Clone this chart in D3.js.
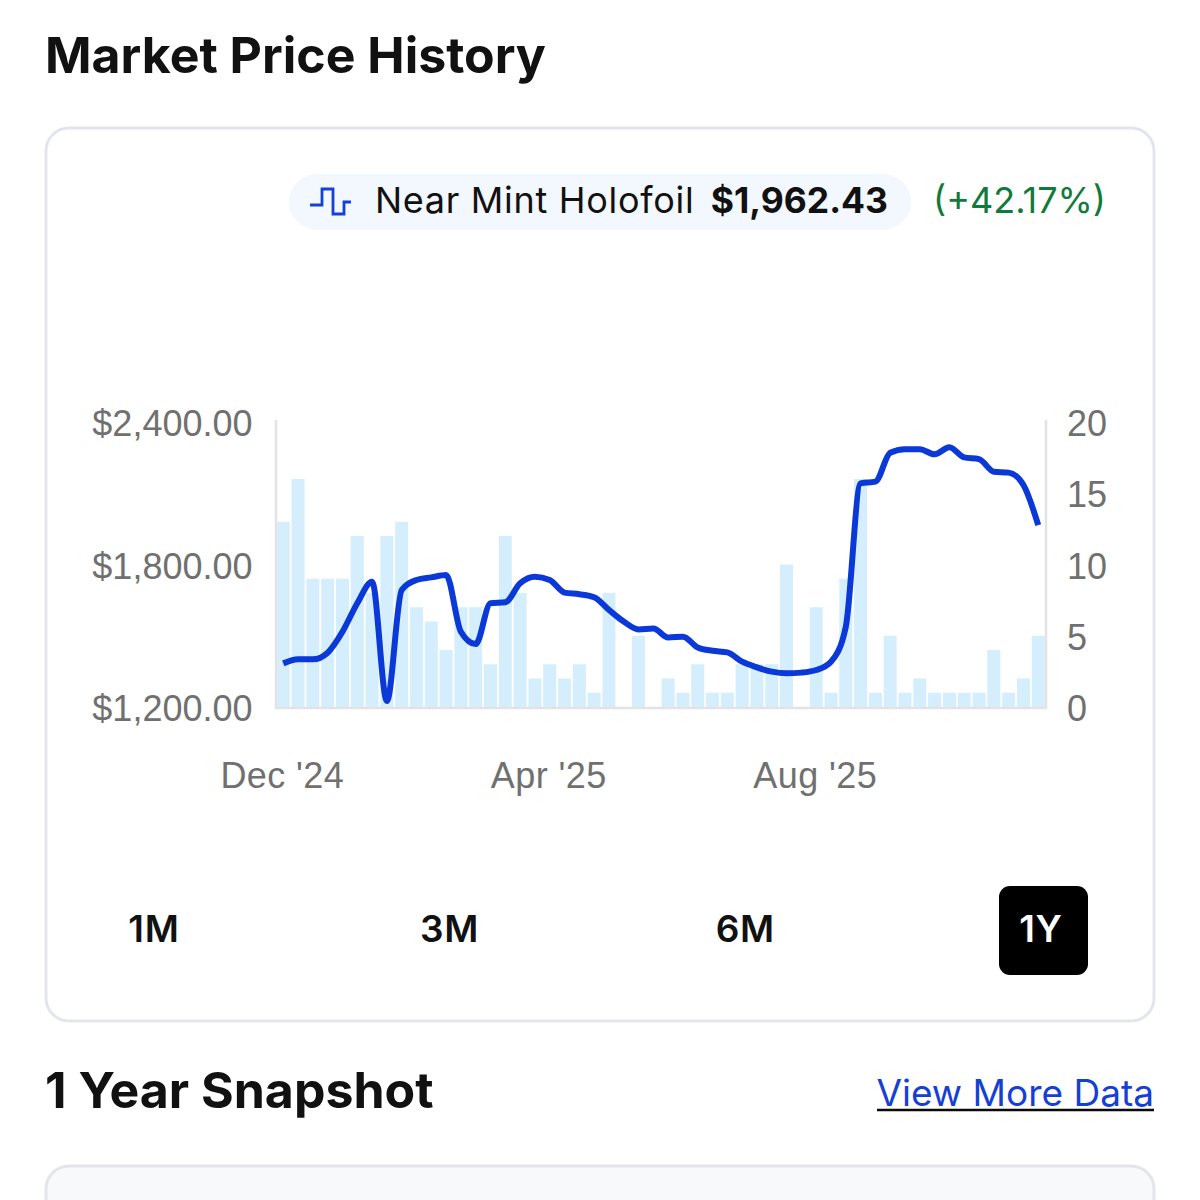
<!DOCTYPE html>
<html>
<head>
<meta charset="utf-8">
<script src="https://cdn.jsdelivr.net/npm/d3@7"></script>
<style>
  html, body { margin: 0; padding: 0; background: #fff; }
  text { font-family: Inter, sans-serif; }
  .tick-label { font-family: "Liberation Sans", sans-serif; font-size: 36px; fill: #707070; }
</style>
</head>
<body>
<div id="chart"></div>
<script>
var volume = [13,16,9,9,9,12,8,12,13,7,6,4,7,7,3,12,8,2,3,2,3,1,8,0,5,0,2,1,3,1,1,3,3,3,10,0,7,1,9,16,1,5,1,2,1,1,1,1,4,1,2,5];
var price = [1388,1405,1405,1433,1521,1641,1732,1229,1697,1739,1750,1760,1521,1469,1641,1645,1725,1753,1739,1686,1679,1666,1613,1564,1531,1535,
  1497,1500,1455,1441,1434,1395,1371,1353,1346,1349,1360,1395,1542,2146,2153,2275,2290,2290,2268,2298,2255,2248,2195,2191,2139,1970];
var priceTicks = [1200, 1800, 2400];
var volumeTicks = [0, 5, 10, 15, 20];
var monthLabels = ["Dec '24", "Apr '25", "Aug '25"];
var monthIndex = [0, 18, 36];
var ranges = ["1M", "3M", "6M", "1Y"];

var width = 1200, height = 1200;
var svg = d3.select("#chart").append("svg")
  .attr("width", width).attr("height", height)
  .style("display", "block");

var x = d3.scaleBand().domain(d3.range(volume.length)).range([276, 1045.5]).paddingInner(0.12).paddingOuter(0.05);
var yPrice = d3.scaleLinear().domain([1200, 2400]).range([708, 423]);
var yVol = d3.scaleLinear().domain([0, 20]).range([707, 422]);

// headings
svg.append("text").attr("x", 45).attr("y", 73).text("Market Price History")
  .attr("font-size", 50).attr("font-weight", 700).attr("fill", "#111");
svg.append("text").attr("x", 45).attr("y", 1108).text("1 Year Snapshot")
  .attr("font-size", 50).attr("font-weight", 700).attr("fill", "#111");
svg.append("text").attr("x", 1154).attr("y", 1106).attr("text-anchor", "end").text("View More Data")
  .attr("font-size", 37).attr("fill", "#1440d4");
svg.append("line").attr("x1", 877).attr("x2", 1154).attr("y1", 1110).attr("y2", 1110)
  .attr("stroke", "#0a0a0a").attr("stroke-width", 2.5);

// cards
svg.append("rect").attr("x", 46).attr("y", 128).attr("width", 1108).attr("height", 893).attr("rx", 23)
  .attr("fill", "#fff").attr("stroke", "#e2e6ec").attr("stroke-width", 3);
svg.append("rect").attr("x", 46).attr("y", 1166).attr("width", 1108).attr("height", 80).attr("rx", 23)
  .attr("fill", "#f8f9fb").attr("stroke", "#e2e6ec").attr("stroke-width", 3);

// legend
svg.append("rect").attr("x", 289).attr("y", 174).attr("width", 622).attr("height", 56).attr("rx", 28).attr("fill", "#f2f8fd");
var icon = [[310,205],[322,205],[322,189],[333,189],[333,214],[344,214],[344,202],[351,202]];
svg.append("path").attr("d", d3.line()(icon)).attr("fill", "none").attr("stroke", "#1440d4").attr("stroke-width", 2.8);
svg.append("text").attr("x", 375).attr("y", 213).text("Near Mint Holofoil")
  .attr("font-size", 36).attr("letter-spacing", 0.7).attr("fill", "#111");
svg.append("text").attr("x", 888).attr("y", 213).attr("text-anchor", "end").text("$1,962.43")
  .attr("font-size", 35.5).attr("font-weight", 700).attr("fill", "#111");
svg.append("text").attr("x", 1106).attr("y", 213).attr("text-anchor", "end").text("(+42.17%)")
  .attr("font-size", 36).attr("fill", "#107a3a");

// volume bars
svg.append("g").selectAll("rect").data(volume).join("rect")
  .attr("x", function(d, i) { return x(i); })
  .attr("y", function(d) { return yVol(d); })
  .attr("width", x.bandwidth())
  .attr("height", function(d) { return yVol(0) - yVol(d); })
  .attr("fill", "#d4eefd");

// axes
var axisColor = "#e3e3e6";
svg.append("line").attr("x1", 276).attr("x2", 276).attr("y1", 420).attr("y2", 709).attr("stroke", axisColor).attr("stroke-width", 2.5);
svg.append("line").attr("x1", 1046).attr("x2", 1046).attr("y1", 420).attr("y2", 709).attr("stroke", axisColor).attr("stroke-width", 2.5);
svg.append("line").attr("x1", 275).attr("x2", 1047).attr("y1", 708).attr("y2", 708).attr("stroke", axisColor).attr("stroke-width", 2.5);

svg.append("g").selectAll("text").data(priceTicks).join("text")
  .attr("class", "tick-label")
  .attr("x", 252.5).attr("y", function(d) { return yPrice(d) + 13; })
  .attr("text-anchor", "end")
  .text(d3.format("$,.2f"));
svg.append("g").selectAll("text").data(volumeTicks).join("text")
  .attr("class", "tick-label")
  .attr("x", 1067).attr("y", function(d) { return yPrice(1200 + d * 60) + 13; })
  .text(function(d) { return d; });
svg.append("g").selectAll("text").data(monthLabels).join("text")
  .attr("class", "tick-label")
  .attr("x", function(d, i) { return x(monthIndex[i]) + x.bandwidth() / 2 - 1; })
  .attr("y", 788).attr("text-anchor", "middle").attr("letter-spacing", 0.4)
  .text(function(d) { return d; });

// price line
var line = d3.line()
  .x(function(d, i) { return x(i) + x.bandwidth() / 2; })
  .y(function(d) { return yPrice(d); })
  .curve(d3.curveMonotoneX);
svg.append("path").datum(price).attr("d", line)
  .attr("fill", "none").attr("stroke", "#0a39d8").attr("stroke-width", 6).attr("stroke-linejoin", "round");

// range buttons
var rangeX = d3.scalePoint().domain(ranges).range([154, 1041]);
svg.append("rect").attr("x", 999).attr("y", 886).attr("width", 89).attr("height", 89).attr("rx", 11).attr("fill", "#000");
svg.append("g").selectAll("text").data(ranges).join("text")
  .attr("x", function(d) { return rangeX(d); })
  .attr("y", 942).attr("text-anchor", "middle")
  .attr("font-size", 37).attr("font-weight", 600).attr("letter-spacing", 0.8)
  .attr("fill", function(d) { return d == "1Y" ? "#fff" : "#111"; })
  .text(function(d) { return d; });
</script>
</body>
</html>
